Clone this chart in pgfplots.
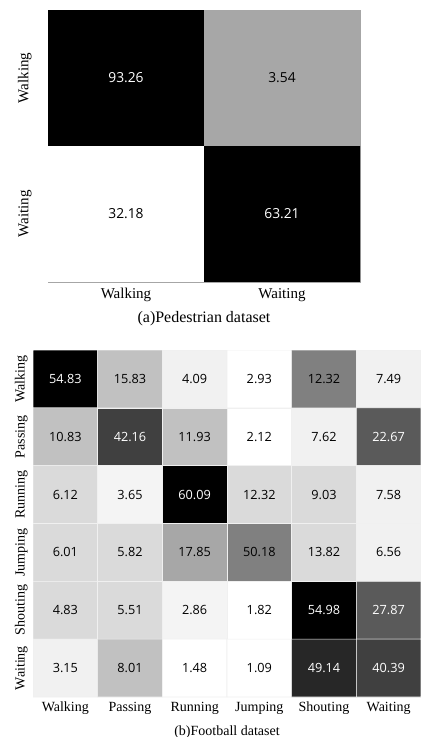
\documentclass[border=0pt]{standalone}
\usepackage{pgfplots}
\pgfplotsset{compat=1.18}
\usepackage{pgfplotstable}
\usepackage{fontspec}
\setmainfont{Liberation Serif}
\newfontfamily\numfont{Open Sans}

% x y value gray(0=black,1=white) whitetext
\pgfplotstableread{
x y val g tw
0 0 93.26 0.00 1
1 0 3.54 0.65 0
0 1 32.18 1.00 0
1 1 63.21 0.00 1
}\pedtable

\pgfplotstableread{
x y val g tw
0 0 54.83 0.00 1
1 0 15.83 0.75 0
2 0 4.09 0.94 0
3 0 2.93 1.00 0
4 0 12.32 0.50 0
5 0 7.49 0.94 0
0 1 10.83 0.75 0
1 1 42.16 0.25 1
2 1 11.93 0.75 0
3 1 2.12 1.00 0
4 1 7.62 0.94 0
5 1 22.67 0.35 1
0 2 6.12 0.85 0
1 2 3.65 0.95 0
2 2 60.09 0.00 1
3 2 12.32 0.85 0
4 2 9.03 0.85 0
5 2 7.58 0.94 0
0 3 6.01 0.85 0
1 3 5.82 0.85 0
2 3 17.85 0.65 0
3 3 50.18 0.50 0
4 3 13.82 0.85 0
5 3 6.56 0.94 0
0 4 4.83 0.85 0
1 4 5.51 0.85 0
2 4 2.86 0.95 0
3 4 1.82 1.00 0
4 4 54.98 0.00 1
5 4 27.87 0.35 1
0 5 3.15 0.94 0
1 5 8.01 0.75 0
2 5 1.48 1.00 0
3 5 1.09 1.00 0
4 5 49.14 0.15 1
5 5 40.39 0.25 1
}\foottable

\pgfplotsset{
  heat/.style={
    scale only axis,
    anchor=south west,
    y dir=reverse,
    colormap={bw}{gray(0cm)=(0); gray(1cm)=(1)},
    point meta min=0, point meta max=1,
    major tick length=0pt,
    enlargelimits=false,
    typeset ticklabels with strut,
    ticklabel style={font=\fontsize{15}{17}\selectfont},
  },
  cells/.style={
    matrix plot*,
    point meta=\thisrow{g},
    visualization depends on={\thisrow{tw} \as \tw},
    visualization depends on={\thisrow{val} \as \val},
    nodes near coords={\ifdim\tw pt>0.5pt\color{white}\else\color{black}\fi\pgfmathprintnumber[fixed,fixed zerofill,precision=2,assume math mode=true]{\val}},
    nodes near coords align={center},
  },
}

\begin{document}
\begin{tikzpicture}
\useasboundingbox (0,0) rectangle (422pt,737pt);

\begin{axis}[heat,
  at={(48pt,455pt)}, width=312pt, height=272pt,
  xmin=-0.5, xmax=1.5, ymin=-0.5, ymax=1.5,
  xtick={0,1}, ytick={0,1},
  xticklabels={Walking,Waiting}, yticklabels={Walking,Waiting},
  yticklabel style={xshift=-11pt, rotate=90, anchor=south},
  xticklabel style={yshift=-1pt},
  axis line style={draw=gray!70, line width=0.6pt},
  xlabel={(a)Pedestrian dataset},
  xlabel style={font=\fontsize{16}{18}\selectfont, yshift=-1pt},
  every node near coord/.append style={font=\numfont\fontsize{13.8}{15}\selectfont},
]
\addplot[cells, mesh/cols=2, draw=none] table {\pedtable};
\end{axis}

\begin{axis}[heat,
  at={(33pt,40pt)}, width=388pt, height=347pt,
  xmin=-0.5, xmax=5.5, ymin=-0.5, ymax=5.5,
  xtick={0,...,5}, ytick={0,...,5},
  xticklabels={Walking,Passing,Running,Jumping,Shouting,Waiting},
  yticklabels={Walking,Passing,Running,Jumping,Shouting,Waiting},
  ticklabel style={font=\fontsize{14}{16}\selectfont},
  yticklabel style={rotate=90, anchor=south},
  axis line style={draw=none},
  xlabel={(b)Football dataset},
  xlabel style={font=\fontsize{14}{16}\selectfont, yshift=-2pt},
  every node near coord/.append style={font=\numfont\fontsize{12.7}{14}\selectfont},
]
\addplot[cells, mesh/cols=6, draw=gray!12, line width=0.6pt] table {\foottable};
\end{axis}
\end{tikzpicture}
\end{document}
